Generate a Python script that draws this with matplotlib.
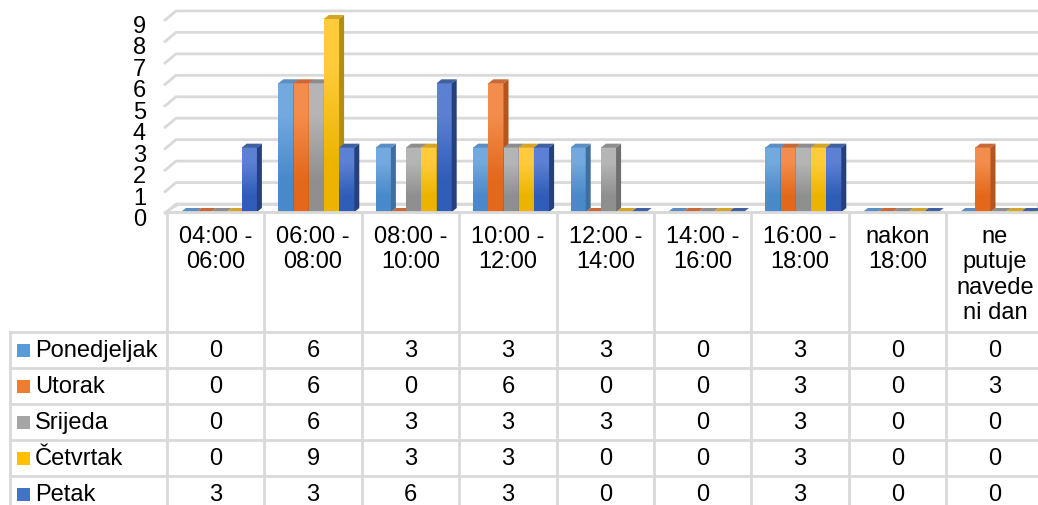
"""
Excel-style 3D clustered columns with a data table underneath
(travel times per weekday)
"""

import numpy as np
import matplotlib.pyplot as plt
from matplotlib.patches import Polygon, Rectangle
from matplotlib.colors import to_rgb

plt.rcParams['font.family'] = ['Liberation Sans', 'DejaVu Sans']

categories = ['04:00 -\n06:00', '06:00 -\n08:00', '08:00 -\n10:00',
              '10:00 -\n12:00', '12:00 -\n14:00', '14:00 -\n16:00',
              '16:00 -\n18:00', 'nakon\n18:00', 'ne\nputuje\nnavede\nni dan']
series = ['Ponedjeljak', 'Utorak', 'Srijeda', 'Četvrtak', 'Petak']
ponedjeljak = [0, 6, 3, 3, 3, 0, 3, 0, 0]
utorak = [0, 6, 0, 6, 0, 0, 3, 0, 3]
srijeda = [0, 6, 3, 3, 3, 0, 3, 0, 0]
cetvrtak = [0, 9, 3, 3, 0, 0, 3, 0, 0]
petak = [3, 3, 6, 3, 0, 0, 3, 0, 0]
values = [ponedjeljak, utorak, srijeda, cetvrtak, petak]
y_ticks = list(range(10))

# colours: legend, front top, front bottom, side, top face
colors = ['#5B9BD5', '#ED7D31', '#A5A5A5', '#FFC000', '#4472C4']
front_top = ['#72A9DE', '#F38D4D', '#B5B5B5', '#FFCB3A', '#5C80D3']
front_bot = ['#4A89CA', '#E3681B', '#8F8F8F', '#ECB400', '#2F5DB8']
side_col = ['#3F6F9F', '#B4551D', '#6F6F6F', '#B48C10', '#26407C']
top_col = ['#5B8EC2', '#C8693A', '#8D8D8D', '#D4A52A', '#40609F']

W, H = 1038, 506
PXC = 97.4     # pixels per category
PXV = 21.45    # pixels per value unit
X0, Y0 = 167, 213
FS = 17
grid_c = '#D9D9D9'


def xv(px):
    return (px - X0) / PXC


def yv(py):
    return (Y0 - py) / PXV


fig = plt.figure(figsize=(W / 100, H / 100), dpi=100)
ax = fig.add_axes([0, 0, 1, 1])
xmin, xmax = xv(0), xv(W)
ymin, ymax = yv(H), yv(0)

# 3D walls
wdx, wdy = 12 / PXC, 8 / PXV
floor = Polygon([(xv(165), 0), (xmax, 0), (xmax, wdy), (xv(165) + wdx, wdy)],
                closed=True, facecolor='white', edgecolor=grid_c, lw=2, zorder=1)
ax.add_patch(floor)
for v in y_ticks:
    ax.plot([xv(164), xv(164) + wdx, xmax], [v - 2 / PXV, v + wdy, v + wdy],
            color=grid_c, lw=2, zorder=1, solid_capstyle='butt')
    ax.text(xv(146), v - 7 / PXV, str(v), ha='right', va='center', fontsize=FS)

# bars
bw = 15.2 / PXC
off = 13.9 / PXC
bdx, bdy = 5 / PXC, 4 / PXV
z = 2
for i in range(len(categories)):
    for j, vals in enumerate(values):
        h = vals[i]
        x0 = i + off + j * bw
        x1 = x0 + bw
        if h > 0:
            grad = np.array([[to_rgb(front_top[j])], [to_rgb(front_bot[j])]])
            ax.imshow(grad, extent=[x0, x1, 0, h], origin='upper', aspect='auto',
                      interpolation='bilinear', zorder=z)
            ax.add_patch(Polygon([(x1, 0), (x1, h), (x1 + bdx, h + bdy), (x1 + bdx, bdy)],
                                 closed=True, facecolor=side_col[j], lw=0, zorder=z))
        ax.add_patch(Polygon([(x0, h), (x1, h), (x1 + bdx, h + bdy), (x0 + bdx, h + bdy)],
                             closed=True, facecolor=top_col[j], lw=0, zorder=z))
        z += 0.01

# data table
row_lines = [333, 369, 405, 441, 477]
ax.plot([xv(165), xmax], [0, 0], color=grid_c, lw=2, zorder=5)
for i in range(len(categories)):
    ax.plot([i, i], [0, ymin], color=grid_c, lw=2, zorder=5)
    ax.text(i + 0.5, yv(226), categories[i], ha='center', va='top',
            fontsize=FS, linespacing=1.2, zorder=6)
ax.plot([xv(10), xv(10)], [yv(333), ymin], color=grid_c, lw=2, zorder=5)
for r in row_lines:
    ax.plot([xv(10), xmax], [yv(r), yv(r)], color=grid_c, lw=2, zorder=5)

for j, name in enumerate(series):
    yc = yv(row_lines[j] + 18)
    ax.add_patch(Rectangle((xv(17), yc - 6.5 / PXV), 13 / PXC, 13 / PXV,
                           facecolor=colors[j], lw=0, zorder=6))
    ax.text(xv(35), yc, name, ha='left', va='center', fontsize=FS, zorder=6)
    for i, v in enumerate(values[j]):
        ax.text(i + 0.5, yc, str(v), ha='center', va='center', fontsize=FS, zorder=6)

ax.set_xlim(xmin, xmax)
ax.set_ylim(ymin, ymax)
ax.axis('off')
fig.savefig('out.png', dpi=100)
